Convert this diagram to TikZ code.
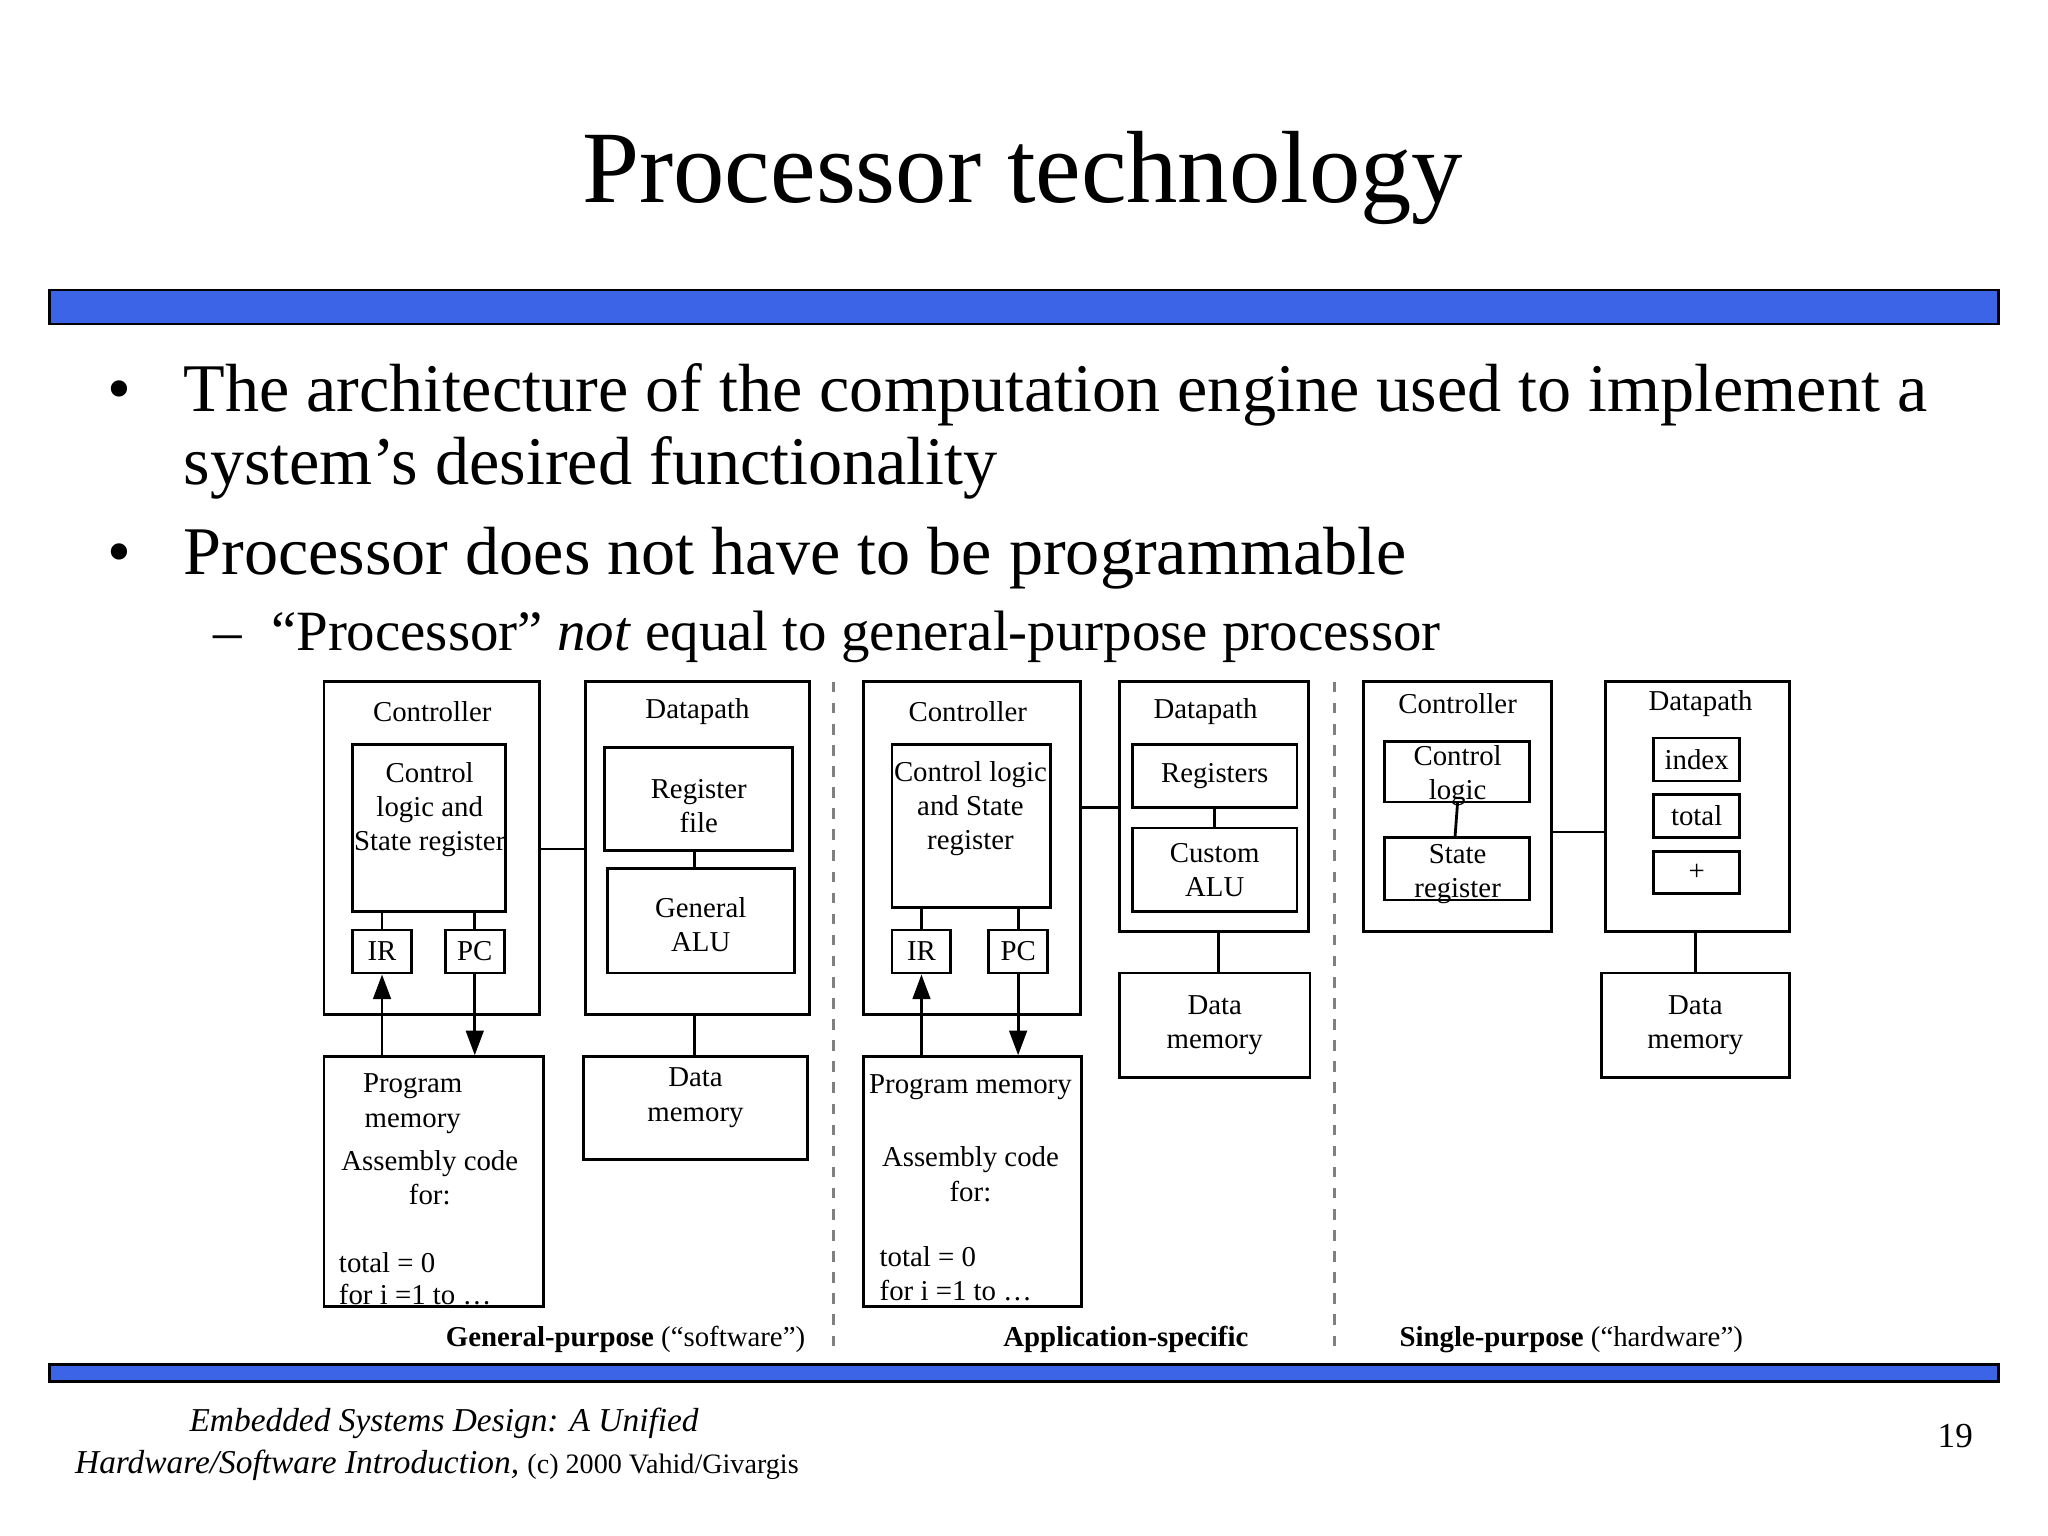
\documentclass[tikz,border=0pt]{standalone}
\usepackage{fontspec}
\setmainfont{Liberation Serif}
\usetikzlibrary{arrows.meta,fit}
\definecolor{barblue}{HTML}{3C64E6}
\begin{document}
\begin{tikzpicture}[x=0.013061cm,y=-0.013061cm,
  bx/.style={draw,line width=0.8pt,inner sep=0pt},
  ln/.style={line width=0.8pt},
  arr/.style={line width=0.8pt,-{Triangle[length=7pt,width=5pt]}},
  lab/.style={font=\fontsize{8.2}{9.7}\selectfont,align=center,inner sep=0pt},
  blab/.style={lab,anchor=base west},
  bar/.style={draw=black,fill=barblue,line width=0.8pt},
  big/.style={font=\fontsize{19.4}{24}\selectfont,anchor=base west,inner sep=0pt}]
\useasboundingbox (0,0) rectangle (1568,1176);
\node[inner sep=0pt,anchor=base,font=\fontsize{29.2}{34}\selectfont] (title) at (783,155) {Processor technology};
\fill[bar] (38,222) rectangle (1530,248);
\node[big] (b1) at (82,315) {•}; \node[big] (t1) at (140,315) {The architecture of the computation engine used to implement a};
\node[big] (t1b) at (140,371) {system’s desired functionality};
\node[big] (b2) at (82,440) {•}; \node[big] (t2) at (140,440) {Processor does not have to be programmable};
\node[big,font=\fontsize{16.2}{20}\selectfont] (d3) at (163,498) {–};
\node[big,font=\fontsize{16.2}{20}\selectfont] (t3) at (207,498) {“Processor” \textit{not} equal to general-purpose processor};
% section 1
\node[bx,fit={(248,522) (413,777)}] (c1) {};
\node[lab] (c1l) at (331,545) {Controller};
\node[bx,fit={(270,570) (387,698)}] (cl1) {};
\node[lab] at (329,620) {Control\\logic and\\State register};
\node[bx,fit={(270,712) (315,745)}] (ir1) {}; \node[lab] at (ir1.center) {IR};
\node[bx,fit={(341,712) (386,745)}] (pc1) {}; \node[lab] at (pc1.center) {PC};
\draw[ln] (cl1.south -| ir1.north) -- (ir1.north);
\draw[ln] (cl1.south -| pc1.north) -- (pc1.north);
\node[bx,fit={(448,522) (620,777)}] (d1) {};
\node[lab] (d1l) at (534,545) {Datapath};
\node[bx,fit={(463,572) (607,651)}] (rf1) {}; \node[lab] at ([yshift=-2pt]rf1.center) {Register\\file};
\node[bx,fit={(465,665) (608,745)}] (alu1) {}; \node[lab] at ([yshift=-1pt]alu1.center) {General\\ALU};
\draw[ln] (532,651) -- (532,665);
\draw[ln] (c1.east |- 0,650) -- (d1.west |- 0,650);
\node[bx,fit={(248,809) (416,1000)}] (pm1) {};
\node[lab] (pm1a) at (316,845) {Program\\memory};
\node[lab] (pm1b) at (329,902) {Assembly code\\for:};
\node[blab] (pm1c) at (259,974) {total = 0};
\begin{scope}
\clip (248,809) rectangle (416,1000);
\node[blab] (pm1d) at (259,999) {for i =1 to …};
\end{scope}
\draw[arr] (ir1.south |- pm1.north) -- (ir1.south);
\draw[arr] (pc1.south) -- (pc1.south |- pm1.north);
\node[bx,fit={(447,809) (618,888)}] (dm1) {}; \node[lab] at ([yshift=3pt]dm1.center) {Data\\memory};
\draw[ln] (532,777) -- (532,809);
\draw[dashed,gray,line width=0.8pt] (638,522) -- (638,1035);
% section 2
\node[bx,fit={(661,522) (827,777)}] (c2) {};
\node[lab] (c2l) at (741,545) {Controller};
\node[bx,fit={(683,570) (804,695)}] (cl2) {}; \node[lab] at (743,619) {Control logic\\and State\\register};
\node[bx,fit={(683,712) (728,745)}] (ir2) {}; \node[lab] at (ir2.center) {IR};
\node[bx,fit={(757,712) (802,745)}] (pc2) {}; \node[lab] at (pc2.center) {PC};
\draw[ln] (cl2.south -| ir2.north) -- (ir2.north);
\draw[ln] (cl2.south -| pc2.north) -- (pc2.north);
\node[bx,fit={(661,809) (828,1000)}] (pm2) {};
\node[lab] (pm2a) at (743,832) {Program memory};
\node[lab] (pm2b) at (743,899) {Assembly code\\for:};
\node[blab] (pm2c) at (673,970) {total = 0};
\node[blab] (pm2d) at (673,996) {for i =1 to …};
\draw[arr] (ir2.south |- pm2.north) -- (ir2.south);
\draw[arr] (pc2.south) -- (pc2.south |- pm2.north);
\node[bx,fit={(857,522) (1002,713)}] (d2) {};
\node[lab] (d2l) at (923,545) {Datapath};
\node[bx,fit={(867,570) (993,618)}] (rg2) {}; \node[lab] at (rg2.center) {Registers};
\node[bx,fit={(867,634) (993,698)}] (alu2) {}; \node[lab] at (alu2.center) {Custom\\ALU};
\draw[ln] (rg2.south) -- (alu2.north);
\draw[ln] (c2.east |- 0,618) -- (d2.west |- 0,618);
\node[bx,fit={(857,745) (1003,825)}] (dm2) {}; \node[lab] at (dm2.center) {Data\\memory};
\draw[ln] (933,713) -- (933,745);
\draw[dashed,gray,line width=0.8pt] (1022,522) -- (1022,1035);
% section 3
\node[bx,fit={(1044,522) (1188,713)}] (c3) {};
\node[lab] (c3l) at (1116,539) {Controller};
\node[bx,fit={(1060,568) (1171,614)}] (cl3) {};
\node[bx,fit={(1060,641) (1171,689)}] (sr3) {};
\draw[ln] (1116,614) -- (1114,641);
\node[lab] (cl3t) at (1116,594) {Control\\logic};
\node[lab] (sr3t) at (1116,669) {State\\register};
\node[bx,fit={(1229,522) (1370,713)}] (d3b) {};
\node[lab] (d3l) at (1302,539) {Datapath};
\node[bx,fit={(1266,565) (1332,598)}] (ix3) {}; \node[lab] at (ix3.center) {index};
\node[bx,fit={(1266,608) (1332,641)}] (tt3) {}; \node[lab] at (tt3.center) {total};
\node[bx,fit={(1266,652) (1332,684)}] (pl3) {}; \node[lab] at (pl3.center) {+};
\draw[ln] (c3.east |- 0,637) -- (d3b.west |- 0,637);
\node[bx,fit={(1226,745) (1370,825)}] (dm3) {}; \node[lab] at (dm3.center) {Data\\memory};
\draw[ln] (1298,713) -- (1298,745);
% captions
\node[lab,anchor=base east] (cap1) at (617,1031) {\textbf{General-purpose} (“software”)};
\node[lab,anchor=base] (cap2) at (862,1031) {\textbf{Application-specific}};
\node[lab,anchor=base west] (cap3) at (1071,1031) {\textbf{Single-purpose} (“hardware”)};
\fill[bar] (38,1045) rectangle (1530,1058);
% footer
\node[inner sep=0pt,anchor=base,font=\fontsize{9.5}{11}\selectfont\itshape] (f1) at (340,1096) {Embedded Systems Design: A Unified};
\node[inner sep=0pt,anchor=base west,font=\fontsize{9.5}{11}\selectfont] (f2) at (57,1128) {\textit{Hardware/Software Introduction,} {\fontsize{8}{10}\selectfont (c) 2000 Vahid/Givargis}};
\node[inner sep=0pt,anchor=base,font=\fontsize{10}{12}\selectfont] (pg) at (1497,1108) {19};
\end{tikzpicture}
\end{document}
